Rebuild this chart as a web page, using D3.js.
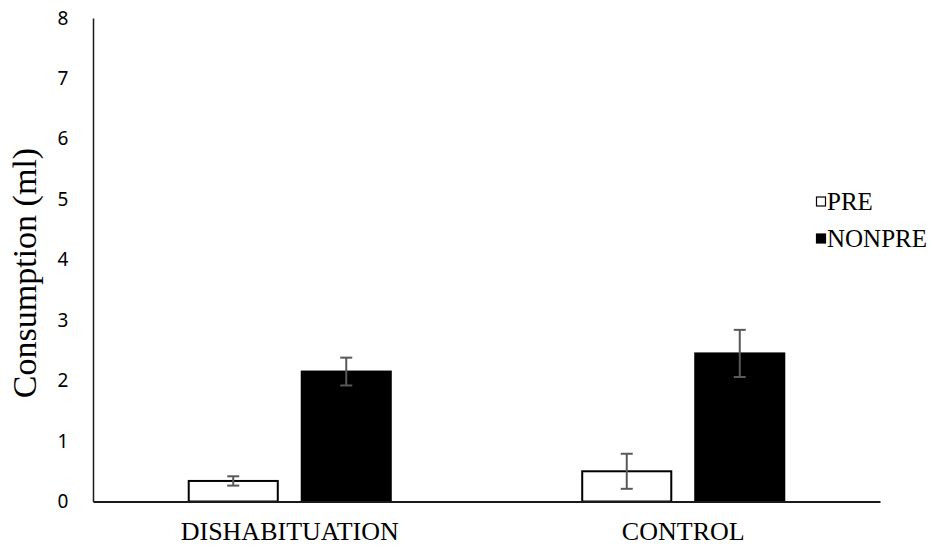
<!DOCTYPE html>
<html><head><meta charset="utf-8">
<script src="https://cdn.jsdelivr.net/npm/d3@7"></script>
<style>body{margin:0;background:#fff;} svg{display:block;}</style>
</head><body>
<svg id="chart" width="932" height="547"></svg>
<script>
const categories = ["DISHABITUATION", "CONTROL"];
const seriesNames = ["PRE", "NONPRE"];
const preValues = [0.34, 0.50];
const preErrors = [0.077, 0.29];
const nonpreValues = [2.15, 2.45];
const nonpreErrors = [0.23, 0.39];
const yTicks = [0, 1, 2, 3, 4, 5, 6, 7, 8];
const yTitle = "Consumption (ml)";

const seriesValues = [preValues, nonpreValues];
const seriesErrors = [preErrors, nonpreErrors];
const seriesFill = ["#ffffff", "#000000"];

const svg = d3.select("#chart");
const mLeft = 93, mRight = 880, mTop = 18, mBottom = 501.5;

const y = d3.scaleLinear().domain([0, 8]).range([mBottom, mTop]);
const x0 = d3.scaleBand().domain(categories).range([mLeft, mRight]).paddingInner(0).paddingOuter(0);
const x1 = d3.scaleBand().domain(seriesNames).range([0, x0.bandwidth()]).paddingInner(0.212).paddingOuter(0.847);

// bars
const data = [];
categories.forEach((c, ci) => seriesNames.forEach((s, si) => {
  data.push({c, s, si, v: seriesValues[si][ci], e: seriesErrors[si][ci]});
}));

svg.append("g").selectAll("rect").data(data).join("rect")
  .attr("x", d => x0(d.c) + x1(d.s))
  .attr("y", d => y(d.v))
  .attr("width", x1.bandwidth())
  .attr("height", d => y(0) - y(d.v))
  .attr("fill", d => seriesFill[d.si])
  .attr("stroke", "#000")
  .attr("stroke-width", 2);

// error bars
const eg = svg.append("g").attr("stroke", "#595959").attr("stroke-width", 2);
data.forEach(d => {
  const cx = x0(d.c) + x1(d.s) + x1.bandwidth() / 2;
  const y1 = y(d.v + d.e), y2 = y(d.v - d.e);
  eg.append("line").attr("x1", cx).attr("x2", cx).attr("y1", y1).attr("y2", y2);
  eg.append("line").attr("x1", cx - 6).attr("x2", cx + 6).attr("y1", y1).attr("y2", y1);
  eg.append("line").attr("x1", cx - 6).attr("x2", cx + 6).attr("y1", y2).attr("y2", y2);
});

// axes
const yAxis = d3.axisLeft(y).tickValues(yTicks).tickSize(0).tickPadding(22).tickFormat(d3.format("d"));
const gy = svg.append("g").attr("transform", `translate(${mLeft},0)`).call(yAxis);
gy.select(".domain").attr("stroke", "#1a1a1a").attr("stroke-width", 1.5);
gy.selectAll("text").attr("font-family", "'Noto Sans', 'Open Sans', sans-serif").attr("font-size", 19).attr("fill", "#000").attr("text-anchor", "middle").attr("dx", -8);

const xAxis = d3.axisBottom(x0).tickSize(0).tickPadding(20);
const gx = svg.append("g").attr("transform", `translate(0,${mBottom})`).call(xAxis);
gx.select(".domain").attr("stroke", "#1a1a1a").attr("stroke-width", 2);
gx.selectAll("text").attr("font-family", "'Liberation Serif', 'Times New Roman', serif").attr("font-size", 26).attr("fill", "#000");

// y title
svg.append("text")
  .attr("transform", `translate(36,273) rotate(-90)`)
  .attr("text-anchor", "middle")
  .attr("font-family", "'Liberation Serif', 'Times New Roman', serif")
  .attr("font-size", 34)
  .attr("fill", "#000")
  .text(yTitle);

// legend
const lg = svg.append("g");
seriesNames.forEach((s, i) => {
  const ly = 201.5 + i * 37;
  lg.append("rect").attr("x", 816.5).attr("y", ly - 4.5).attr("width", 9).attr("height", 9)
    .attr("fill", seriesFill[i]).attr("stroke", "#000").attr("stroke-width", 1.2);
  lg.append("text").attr("x", 827).attr("y", ly + 8.5)
    .attr("font-family", "'Liberation Serif', 'Times New Roman', serif")
    .attr("font-size", 25).attr("fill", "#000").text(s);
});
</script>
</body></html>
